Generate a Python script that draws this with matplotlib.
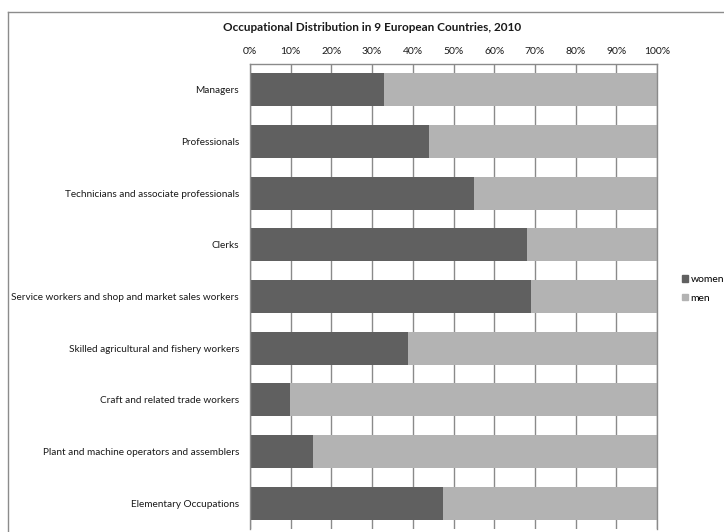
import matplotlib.pyplot as plt
from matplotlib.lines import Line2D
from matplotlib.patches import Patch
import numpy as np

occupations = [
    "Managers",
    "Professionals",
    "Technicians and associate professionals",
    "Clerks",
    "Service workers and shop and market sales workers",
    "Skilled agricultural and fishery workers",
    "Craft and related trade workers",
    "Plant and machine operators and assemblers",
    "Elementary Occupations",
]
women = [0.33, 0.44, 0.55, 0.68, 0.69, 0.388, 0.098, 0.155, 0.474]
men = [1 - w for w in women]
tick_vals = np.arange(0, 1.01, 0.1)
tick_labels = [f"{int(round(t * 100))}%" for t in tick_vals]

plt.rcParams["font.family"] = ["Lato", "DejaVu Sans"]

women_color = "#606060"
men_color = "#b3b3b3"
grid_color = "#8a8a8a"
text_color = "#1a1a1a"

fig = plt.figure(figsize=(7.24, 5.32), dpi=100)
fig.patch.set_facecolor("white")
ax = fig.add_axes([250 / 724, 1 - 529 / 532, 407 / 724, 465 / 532])

y = np.arange(len(occupations))
ax.barh(y, women, height=0.64, color=women_color, label="women", zorder=2)
ax.barh(y, men, left=women, height=0.64, color=men_color, label="men", zorder=2)

ax.set_xlim(0, 1)
ax.set_ylim(len(occupations) - 0.5, -0.5)
ax.set_yticks(y)
ax.set_yticklabels(occupations, fontsize=7.2, color=text_color)
ax.set_xticks(tick_vals)
ax.set_xticklabels(tick_labels, fontsize=7.5, color=text_color)
ax.xaxis.tick_top()
ax.tick_params(axis="x", length=0, pad=6)
ax.tick_params(axis="y", length=0, pad=8)

ax.set_axisbelow(True)
ax.grid(axis="x", color=grid_color, linewidth=1)
ax.grid(axis="y", visible=False)
for side in ["left", "top", "right"]:
    ax.spines[side].set_color(grid_color)
    ax.spines[side].set_linewidth(1)
ax.spines["bottom"].set_visible(False)

fig.text(372 / 724, 1 - 28 / 532, "Occupational Distribution in 9 European Countries, 2010",
         ha="center", va="center", fontsize=8.5, fontweight="bold", color=text_color)

# outer chart frame (runs off the right and bottom edges)
fig.add_artist(Line2D([8 / 724, 8 / 724], [1 - 12 / 532, -0.05], transform=fig.transFigure,
                      color="#8c8c8c", linewidth=1))
fig.add_artist(Line2D([8 / 724, 1.05], [1 - 12 / 532, 1 - 12 / 532], transform=fig.transFigure,
                      color="#8c8c8c", linewidth=1))

handles = [Patch(color=women_color, label="women"), Patch(color=men_color, label="men")]
fig.legend(handles=handles, loc="center left", bbox_to_anchor=(682 / 724, 1 - 289 / 532),
           frameon=False, fontsize=7.5, handlelength=0.55, handleheight=0.55,
           handletextpad=0.25, labelspacing=0.9, borderpad=0, borderaxespad=0)

plt.savefig("out.png", dpi=100, facecolor="white")
